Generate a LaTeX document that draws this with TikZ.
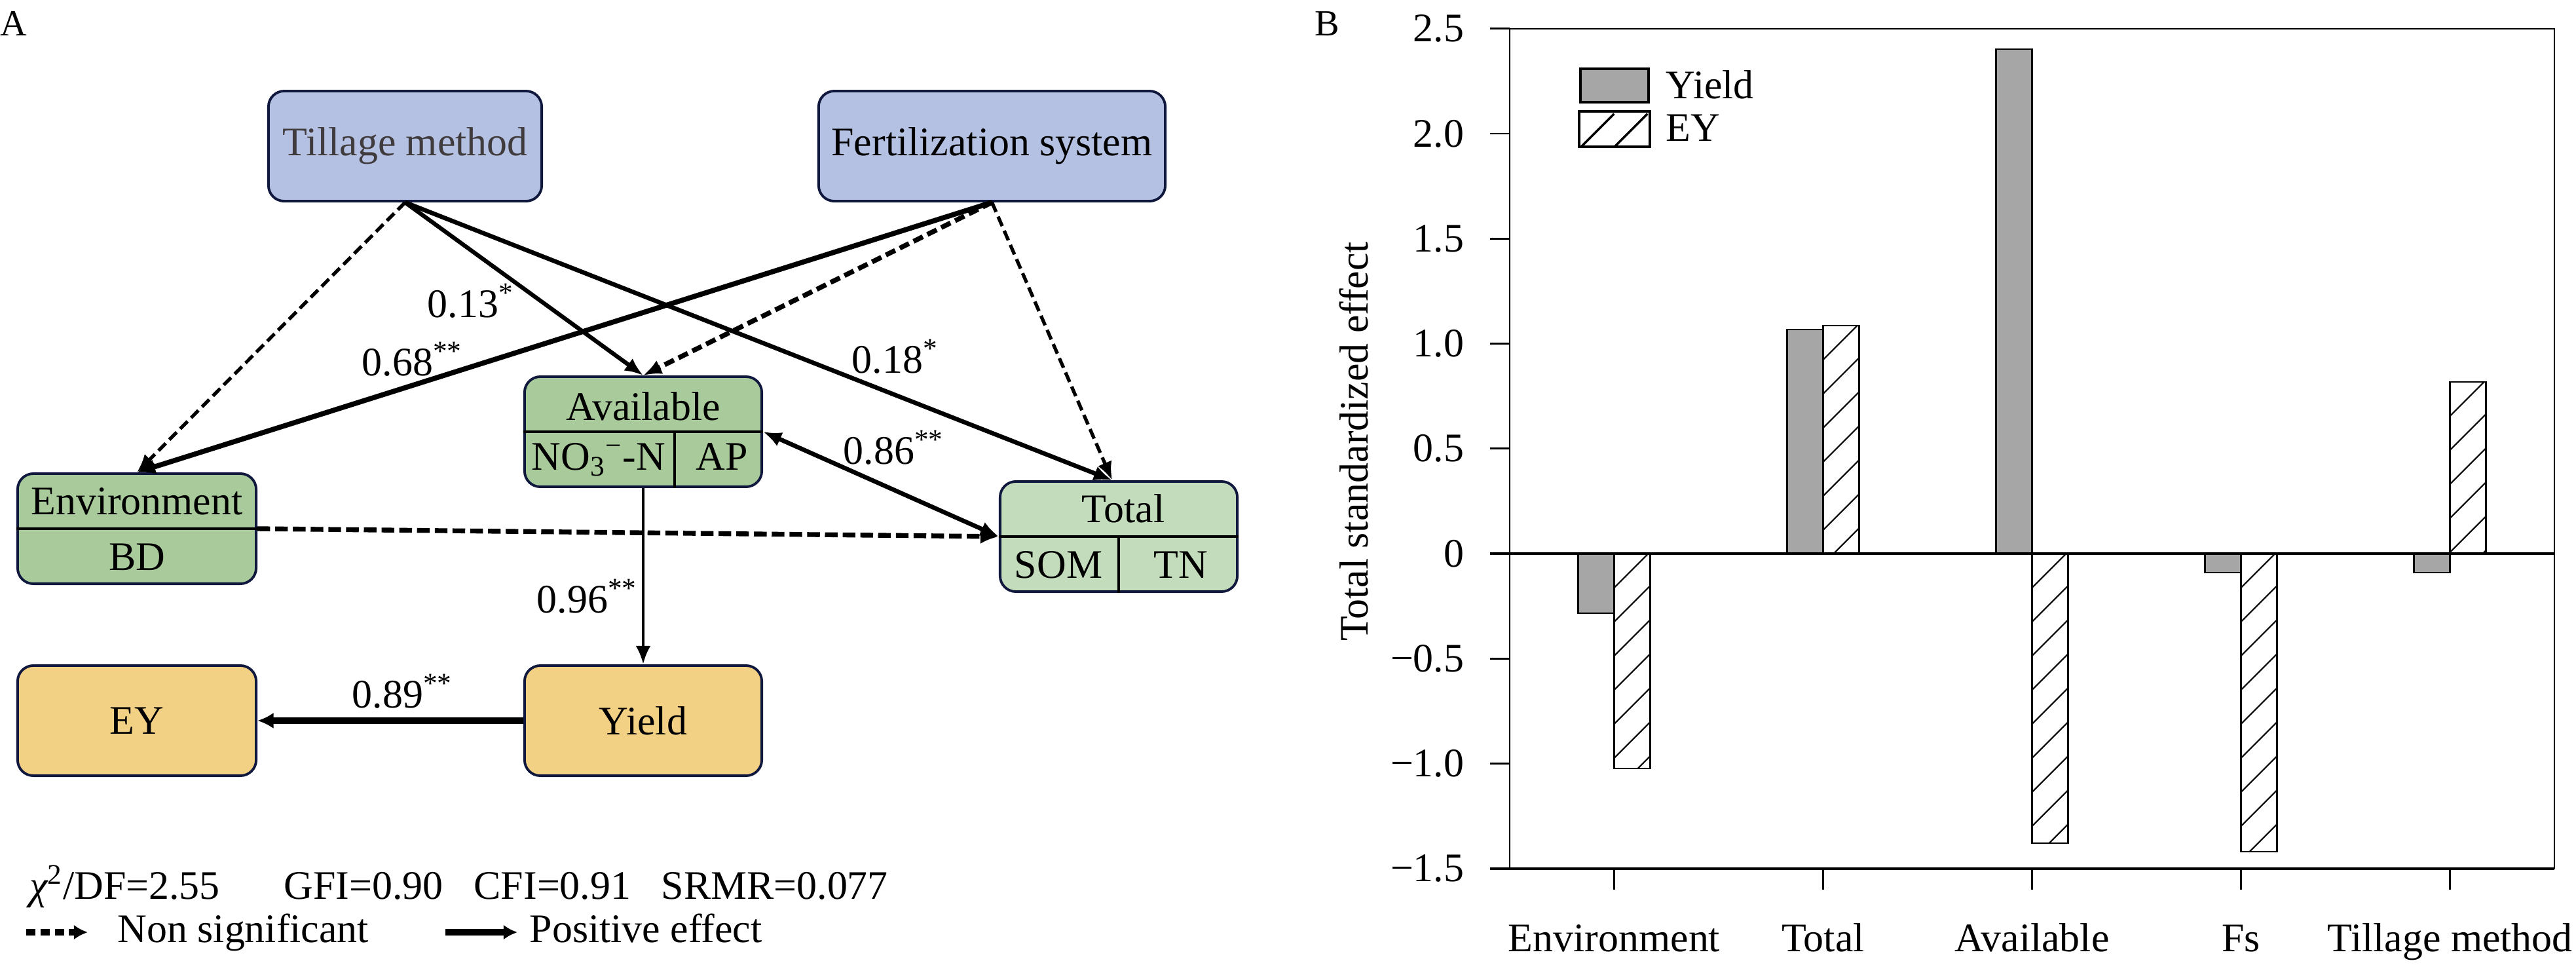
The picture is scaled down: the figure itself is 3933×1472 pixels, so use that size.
\documentclass[tikz,border=0pt]{standalone}
\usepackage{fontspec}
\setmainfont{Liberation Serif}
\usetikzlibrary{arrows.meta}
\definecolor{boxblue}{RGB}{181,193,227}
\definecolor{boxgreen}{RGB}{169,203,155}
\definecolor{boxlgreen}{RGB}{195,220,187}
\definecolor{boxyellow}{RGB}{242,209,132}
\definecolor{boxborder}{RGB}{16,24,62}
\definecolor{tilltext}{RGB}{64,60,62}
\definecolor{bargray}{RGB}{166,166,166}
\newcommand{\eybar}[3]{%
  \begin{scope}
    \clip (#1,#2) rectangle ({#1+55},#3);
    \foreach \k in {0,...,10}
      \draw[hatchline] (#1,{#2+\k*52}) -- ({#1+55},{#2+\k*52-55});
  \end{scope}
  \draw[barline] (#1,#2) rectangle ({#1+55},#3);
}
\begin{document}
\begin{tikzpicture}[x=0.01cm,y=-0.01cm,
  font=\fontsize{17.6}{21}\selectfont,
  box/.style={draw=boxborder, line width=1.1pt, rounded corners=0.24cm, inner sep=0pt,
              minimum height=1.68cm, align=center},
  txt/.style={inner sep=0pt},
  edge/.style={-{Latex[length=8pt,width=6.5pt]}, line width=1.8pt},
  nsig/.style={dash pattern=on 4.5pt off 2.2pt},
  divline/.style={line width=1.1pt},
  axisline/.style={line width=0.75pt},
  thickaxis/.style={line width=1.1pt},
  barline/.style={line width=0.7pt},
  hatchline/.style={line width=0.6pt},
  ]
\useasboundingbox (0,0) rectangle (3933,1472);

% ---------------- Panel A ----------------
\node[txt, anchor=base west, font=\fontsize{16}{18}\selectfont] (labA) at (0,54) {A};

\node[box, fill=boxblue, minimum width=4.17cm, text=tilltext] (till) at (618.5,223) {Tillage method};
\node[box, fill=boxblue, minimum width=5.29cm] (fert) at (1514.5,223) {Fertilization system};
\node[box, fill=boxgreen, minimum width=3.62cm] (avail) at (982,659) {};
\node[box, fill=boxgreen, minimum width=3.64cm] (env) at (209,807) {};
\node[box, fill=boxlgreen, minimum width=3.62cm] (total) at (1708,819) {};
\node[box, fill=boxyellow, minimum width=3.64cm] (ey) at (209,1100) {EY};
\node[box, fill=boxyellow, minimum width=3.62cm] (yield) at (982,1100) {Yield};

% dividers
\draw[divline] (avail.west) -- (avail.east);
\draw[divline] ([xshift=0.48cm]avail.center) -- ([xshift=0.48cm]avail.south);
\draw[divline] (env.west) -- (env.east);
\draw[divline] (total.west) -- (total.east);
\draw[divline] (total.center) -- (total.south);

% box texts
\node[txt, anchor=base] (availT) at (982,641) {Available};
\node[txt, anchor=base] (no3) at (914,717) {NO\textsubscript{3}\textsuperscript{−}-N};
\node[txt, anchor=base] (ap) at (1102,717) {AP};
\node[txt, anchor=base] (envT) at (209,785) {Environment};
\node[txt, anchor=base] (bd) at (209,870) {BD};
\node[txt, anchor=base] (totT) at (1715,797) {Total};
\node[txt, anchor=base] (som) at (1616,882) {SOM};
\node[txt, anchor=base] (tn) at (1803,882) {TN};

% connectors
\draw[edge, nsig, line width=1.5pt] (till.south) -- (env.north);
\draw[edge, line width=1.8pt] (till.south) -- (avail.north);
\draw[edge, line width=1.9pt] (till.south) -- ([xshift=-0.1cm]total.north);
\draw[edge, line width=2.2pt] (fert.south) -- (env.north);
\draw[edge, nsig, line width=2.1pt] (fert.south) -- (avail.north);
\draw[edge, nsig, line width=1.5pt] (fert.south) -- ([xshift=-0.1cm]total.north);
\draw[{Latex[length=8pt,width=6.5pt]}-{Latex[length=8pt,width=6.5pt]}, line width=1.9pt] (avail.east) -- (total.west);
\draw[edge, nsig, line width=2.1pt, dash pattern=on 5.5pt off 2.2pt] (env.east) -- (total.west);
\draw[edge, line width=1.4pt] (avail.south) -- (yield.north);
\draw[-{Latex[length=7pt,width=7pt]}, line width=2.9pt] (yield.west) -- (ey.east);

% path labels
\node[txt, anchor=base west] (l13) at (652,484) {0.13\textsuperscript{*}};
\node[txt, anchor=base west] (l68) at (552,573) {0.68\textsuperscript{**}};
\node[txt, anchor=base west] (l18) at (1300,569) {0.18\textsuperscript{*}};
\node[txt, anchor=base west] (l86) at (1287,708) {0.86\textsuperscript{**}};
\node[txt, anchor=base west] (l96) at (819,935) {0.96\textsuperscript{**}};
\node[txt, anchor=base west] (l89) at (537,1080) {0.89\textsuperscript{**}};

% fit statistics
\node[txt, anchor=base west] (chi) at (45,1372) {{\itshape χ}\textsuperscript{2}/DF=2.55};
\node[txt, anchor=base west] (gfi) at (433,1372) {GFI=0.90};
\node[txt, anchor=base west] (cfi) at (723,1372) {CFI=0.91};
\node[txt, anchor=base west] (srmr) at (1009,1372) {SRMR=0.077};

% legend
\coordinate (ns1) at (40,1423);
\coordinate (ns2) at (134,1423);
\coordinate (pe1) at (680,1423);
\coordinate (pe2) at (790,1423);
\draw[-{Latex[length=6pt,width=6.5pt]}, line width=2.6pt, dash pattern=on 4pt off 2.2pt] (ns1) -- (ns2);
\draw[-{Latex[length=6pt,width=6.5pt]}, line width=2.6pt] (pe1) -- (pe2);
\node[txt, anchor=base west] (nslab) at (179,1438) {Non significant};
\node[txt, anchor=base west] (pelab) at (808,1438) {Positive effect};

% ---------------- Panel B ----------------
\node[txt, anchor=base west, font=\fontsize{16}{18}\selectfont] (labB) at (2007,54) {B};

% bars (Yield grey, EY hatched)
\draw[barline, fill=bargray] (2409.5,845) rectangle (2464.5,936);
\eybar{2464.5}{845}{1173}
\draw[barline, fill=bargray] (2728.5,503) rectangle (2783.5,845);
\eybar{2783.5}{497}{845}
\draw[barline, fill=bargray] (3047.5,75) rectangle (3102.5,845);
\eybar{3102.5}{845}{1287}
\draw[barline, fill=bargray] (3366.5,845) rectangle (3421.5,874);
\eybar{3421.5}{845}{1300}
\draw[barline, fill=bargray] (3685.5,845) rectangle (3740.5,874);
\eybar{3740.5}{583}{845}

% frame and axes
\draw[axisline] (2305,1326) -- (2305,44) -- (3900,44) -- (3900,1326);
\draw[thickaxis] (2275,1326) -- (3900,1326);
\draw[thickaxis] (2275,845) -- (3900,845);
\foreach \v/\lab [count=\i] in {2.5/2.5, 2.0/2.0, 1.5/1.5, 1.0/1.0, 0.5/0.5, 0/0, -0.5/−0.5, -1.0/−1.0, -1.5/−1.5} {
  \draw[axisline] (2275,{845-320.5*\v}) -- (2305,{845-320.5*\v});
  \node[txt, anchor=east] (yt\i) at (2236,{845-320.5*\v}) {\lab};
}
\foreach \t/\lab [count=\i] in {2464.5/Environment, 2783.5/Total, 3102.5/Available, 3421.5/Fs, 3740.5/Tillage method} {
  \draw[axisline] (\t,1326) -- (\t,1358);
  \node[txt, anchor=base] (xt\i) at (\t,1452) {\lab};
}
\node[txt, anchor=base, rotate=90] (ylab) at (2088,674) {Total standardized effect};

% legend
\node[draw, line width=1pt, fill=bargray, minimum width=1.04cm, minimum height=0.51cm, inner sep=0pt] (lgy) at (2465,130.5) {};
\node[line width=1pt, minimum width=1.04cm, minimum height=0.50cm, inner sep=0pt] (lge) at (2465,197) {};
\begin{scope}
  \clip (lge.south west) rectangle (lge.north east);
  \draw[line width=1pt] ([xshift=0.03cm]lge.south west) -- ++(0.5cm,0.5cm);
  \draw[line width=1pt] ([xshift=0.54cm]lge.south west) -- ++(0.5cm,0.5cm);
\end{scope}
\draw[line width=1pt] (lge.south west) rectangle (lge.north east);
\node[txt, anchor=base west] (lgyt) at (2543,150) {Yield};
\node[txt, anchor=base west] (lget) at (2543,215) {EY};
\end{tikzpicture}
\end{document}
